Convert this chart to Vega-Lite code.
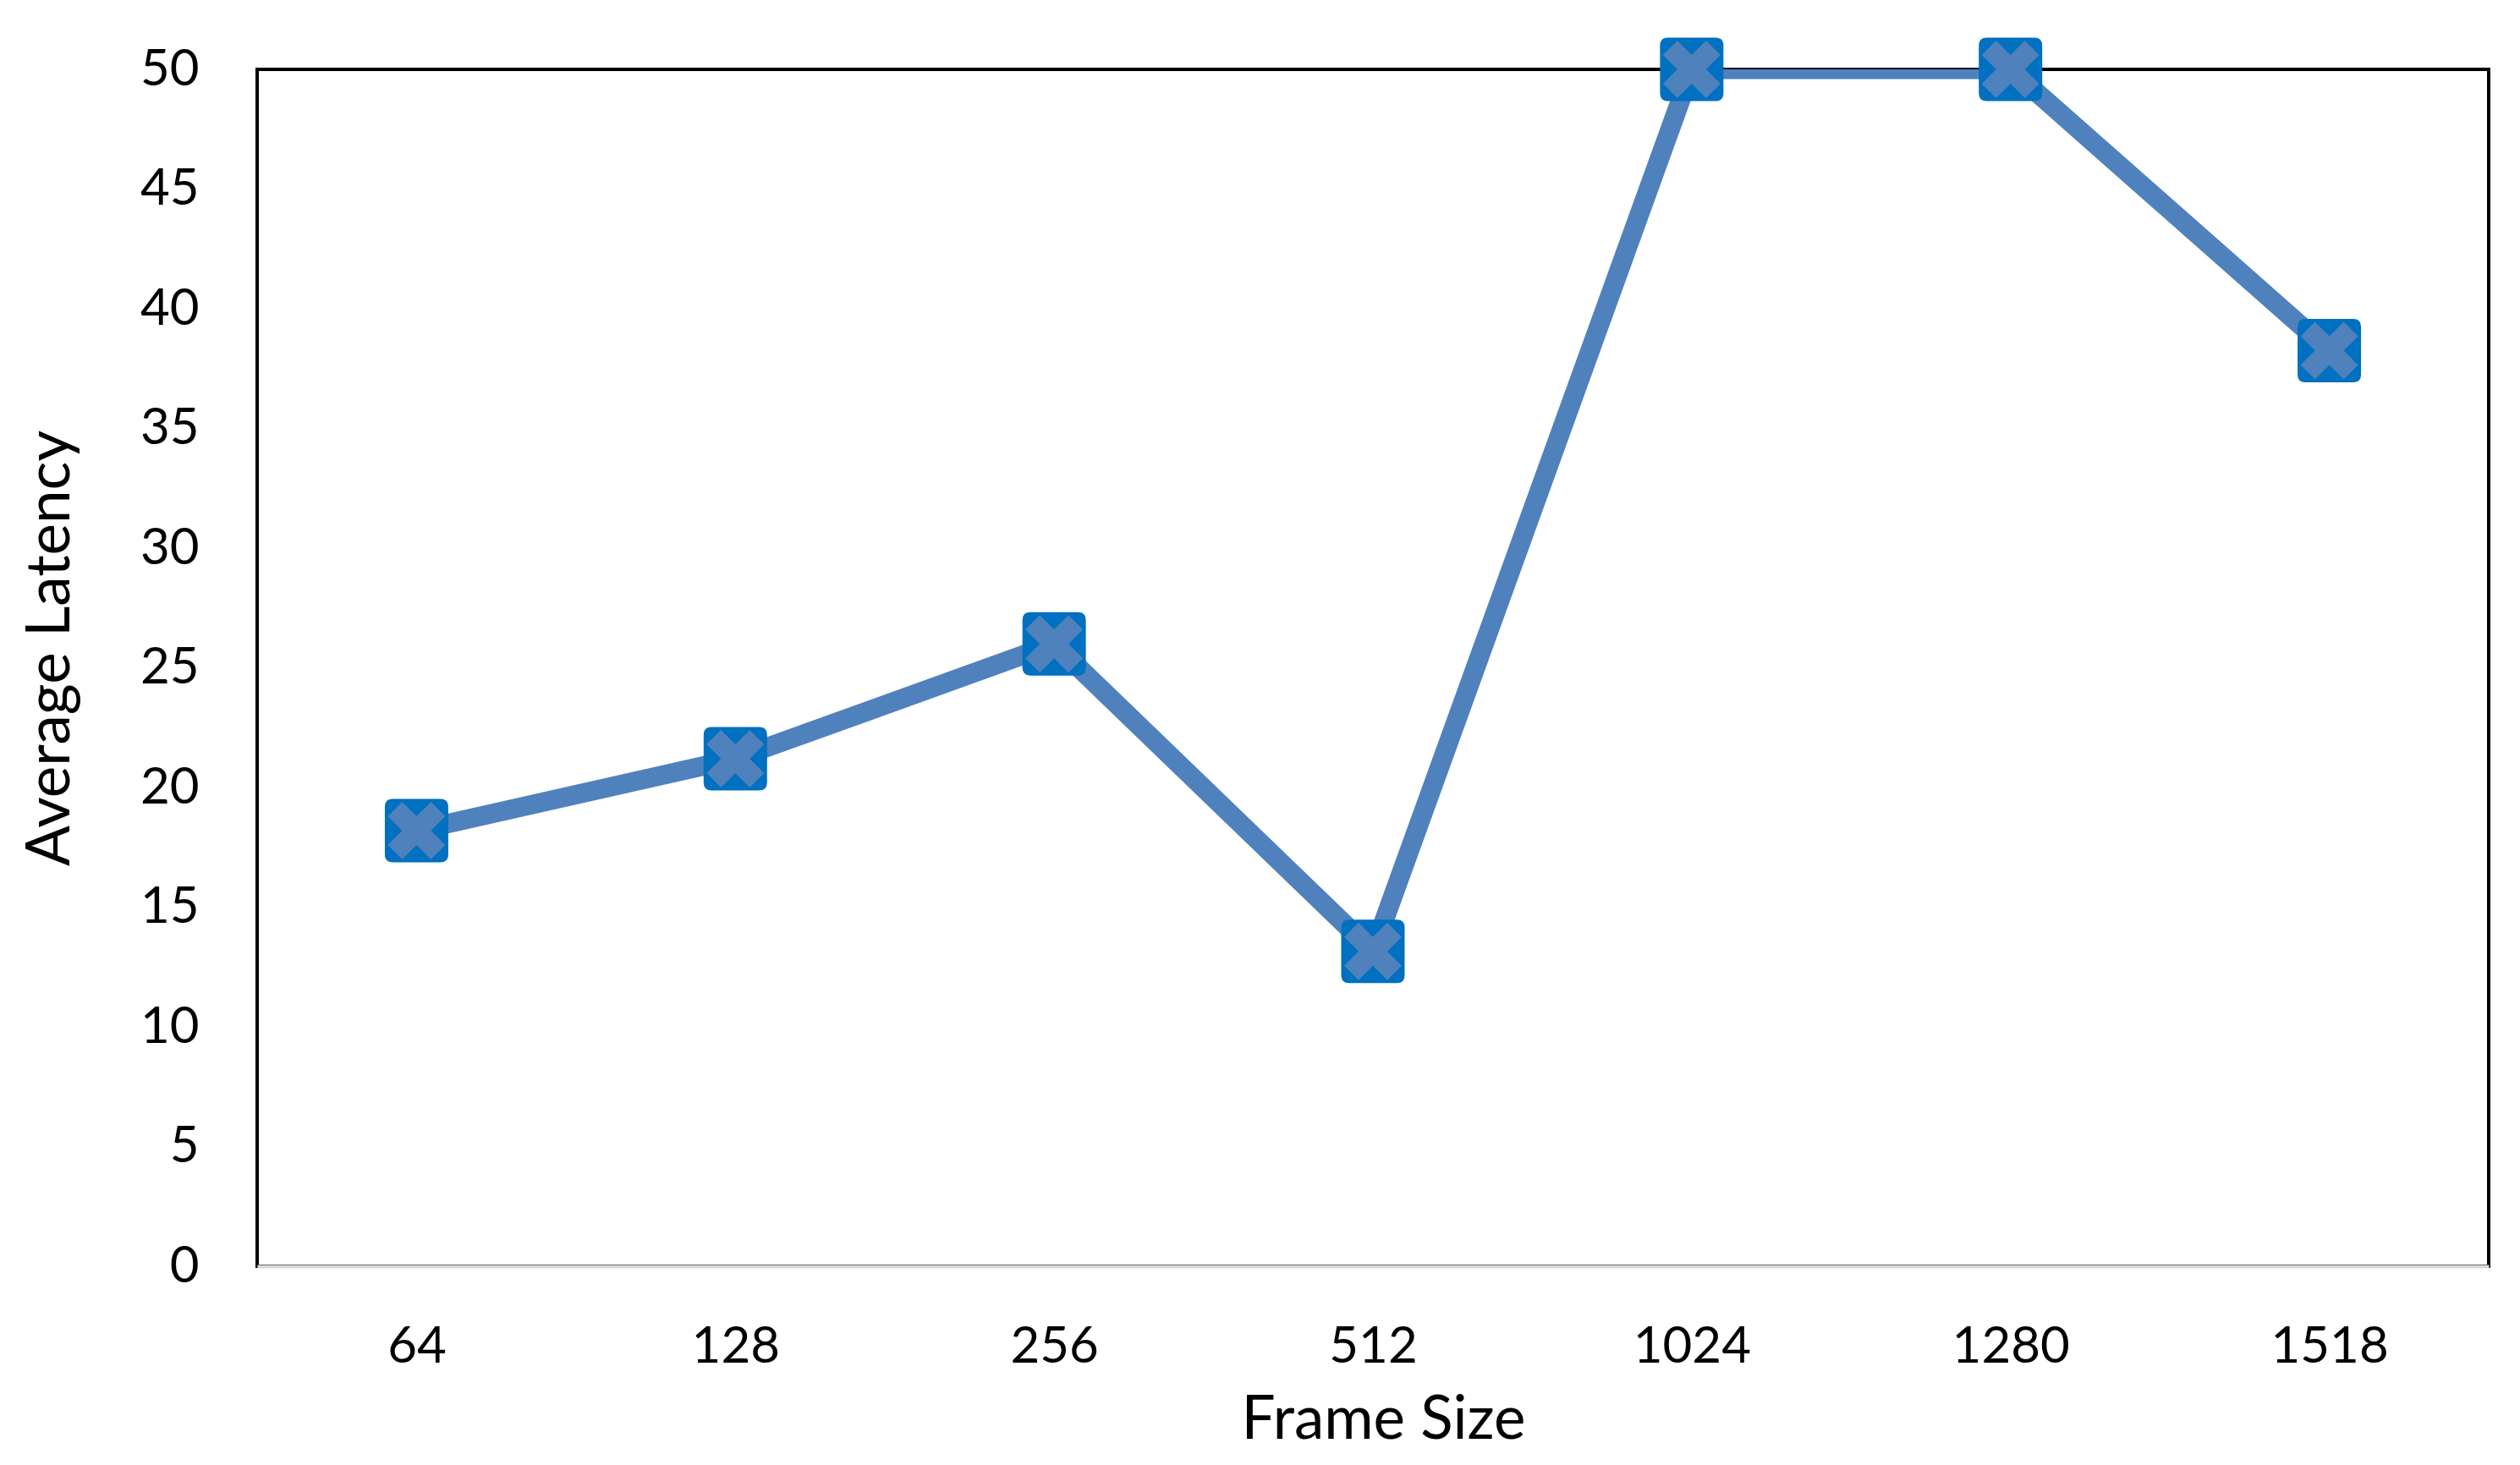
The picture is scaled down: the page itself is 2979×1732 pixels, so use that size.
{
  "$schema": "https://vega.github.io/schema/vega-lite/v6.json",
  "autosize": {"type": "none"},
  "padding": {"left": 304, "top": 82, "right": 37, "bottom": 235},
  "width": 2638,
  "height": 1415,
  "background": "white",
  "config": {
    "font": "Lato",
    "view": {"stroke": "#000000", "strokeWidth": 4}
  },
  "data": {
    "values": [
      {"frame": "64", "latency": 18.2},
      {"frame": "128", "latency": 21.2},
      {"frame": "256", "latency": 26.0},
      {"frame": "512", "latency": 13.15},
      {"frame": "1024", "latency": 50},
      {"frame": "1280", "latency": 50},
      {"frame": "1518", "latency": 38.25}
    ]
  },
  "encoding": {
    "x": {
      "field": "frame",
      "type": "ordinal",
      "sort": null,
      "scale": {"type": "point", "padding": 0.5},
      "axis": {
        "title": "Frame Size",
        "titleFont": "Lato",
        "titleFontSize": 71,
        "titleFontWeight": "normal",
        "titleColor": "#000000",
        "titleBaseline": "alphabetic",
        "titleX": 1331,
        "titleY": 203,
        "labelAngle": 0,
        "labelFont": "Lato",
        "labelFontSize": 60,
        "labelColor": "#000000",
        "labelBaseline": "alphabetic",
        "labelPadding": 113,
        "ticks": false,
        "tickSize": 0,
        "grid": false,
        "domain": true,
        "domainColor": "#d9d9d9",
        "domainWidth": 4
      }
    },
    "y": {
      "field": "latency",
      "type": "quantitative",
      "scale": {"domain": [0, 50], "nice": false, "zero": true},
      "axis": {
        "title": "Average Latency",
        "titleFont": "Lato",
        "titleFontSize": 71,
        "titleFontWeight": "normal",
        "titleColor": "#000000",
        "titleAngle": -90,
        "titleBaseline": "alphabetic",
        "titleAlign": "center",
        "titleX": -223,
        "titleY": 684,
        "values": [0, 5, 10, 15, 20, 25, 30, 35, 40, 45, 50],
        "labelFont": "Lato",
        "labelFontSize": 60,
        "labelColor": "#000000",
        "labelPadding": 69,
        "ticks": false,
        "tickSize": 0,
        "grid": false,
        "domain": false
      }
    }
  },
  "layer": [
    {
      "mark": {"type": "line", "color": "#4F81BD", "strokeWidth": 23, "clip": true, "strokeJoin": "miter"}
    },
    {
      "mark": {
        "type": "point",
        "filled": true,
        "opacity": 1,
        "color": "#0070C0",
        "size": 5625,
        "shape": "M -0.75 -1 L 0.75 -1 Q 1 -1 1 -0.75 L 1 0.75 Q 1 1 0.75 1 L -0.75 1 Q -1 1 -1 0.75 L -1 -0.75 Q -1 -1 -0.75 -1 Z",
        "clip": false
      }
    },
    {
      "mark": {
        "type": "point",
        "filled": true,
        "opacity": 1,
        "color": "#4F81BD",
        "size": 4624,
        "shape": "M -0.5 -1 L 0 -0.5 L 0.5 -1 L 1 -0.5 L 0.5 0 L 1 0.5 L 0.5 1 L 0 0.5 L -0.5 1 L -1 0.5 L -0.5 0 L -1 -0.5 Z",
        "clip": false
      }
    }
  ]
}
